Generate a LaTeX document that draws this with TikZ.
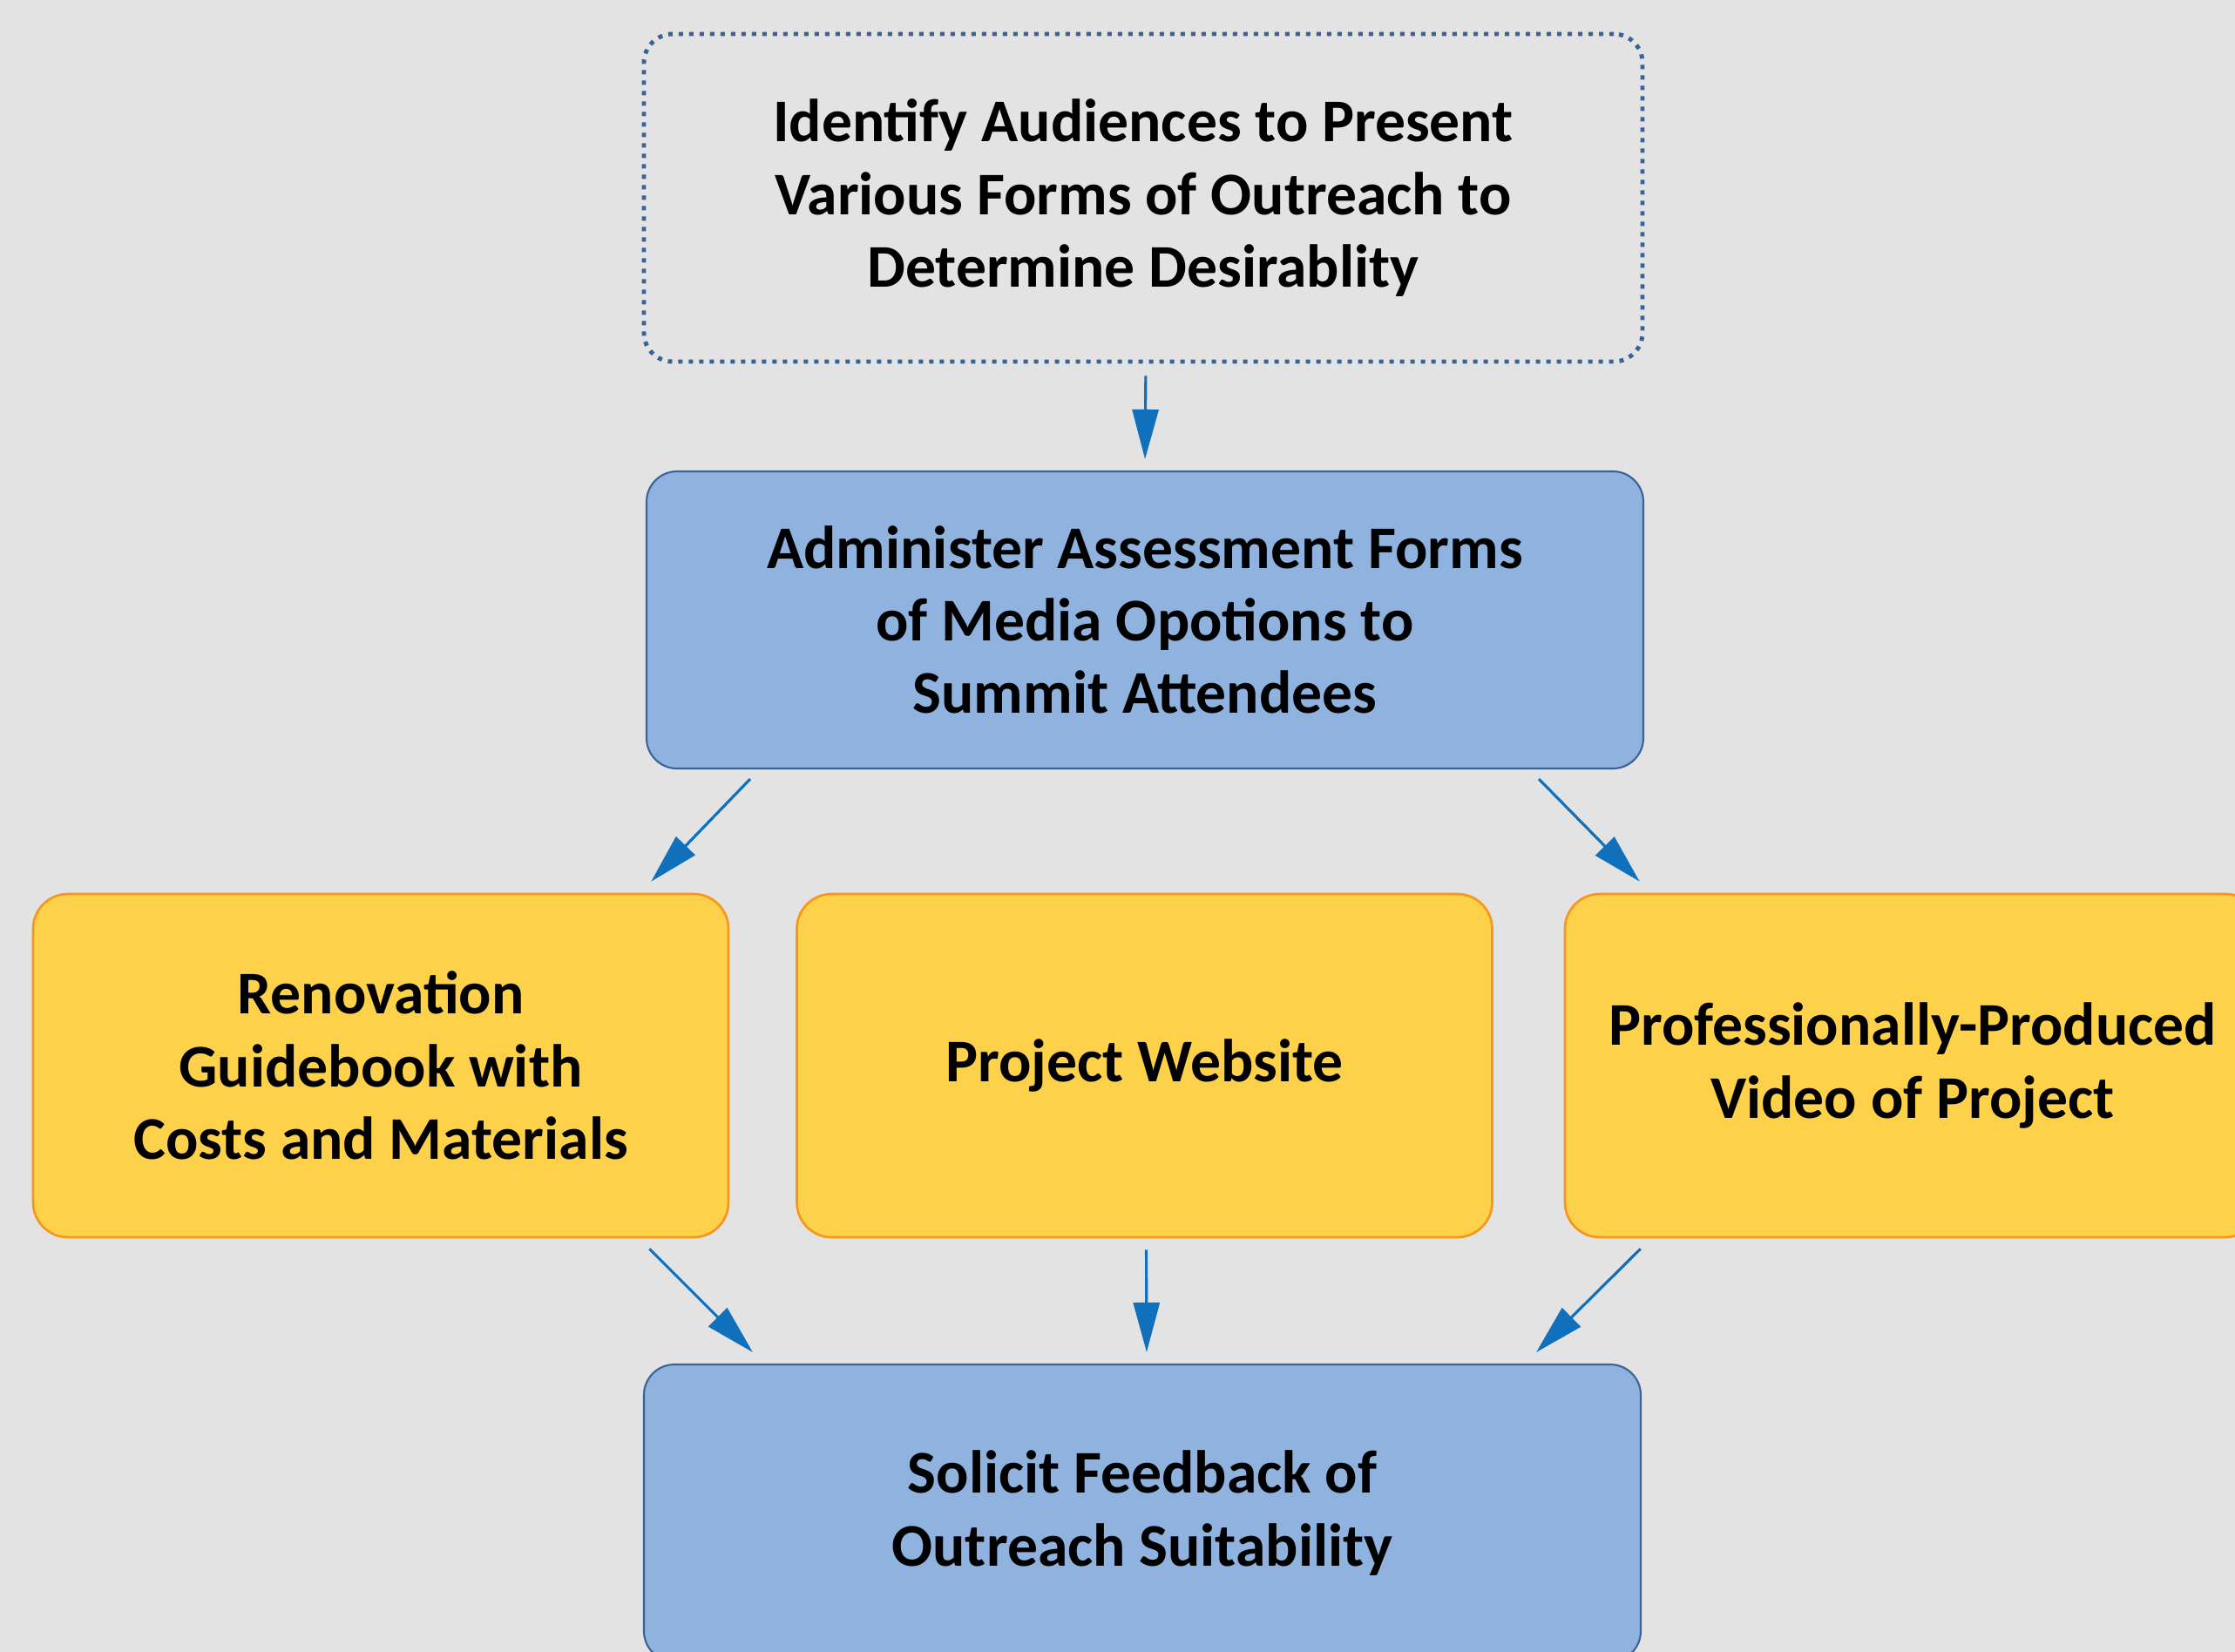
\documentclass[tikz,border=0pt]{standalone}
\usepackage{fontspec}
\setmainfont{Carlito}
\usetikzlibrary{arrows.meta}
\definecolor{bgcol}{RGB}{227,227,227}
\definecolor{framecol}{RGB}{58,98,150}
\definecolor{bluefill}{RGB}{143,179,222}
\definecolor{yellowfill}{RGB}{253,210,74}
\definecolor{orangeline}{RGB}{247,150,30}
\definecolor{arrowcol}{RGB}{16,112,187}
\tikzset{
    box/.style={align=center, inner sep=0pt, font=\bfseries\fontsize{19.8}{23.7}\selectfont},
    dotbox/.style={box, draw=framecol, line width=1.4pt, dash pattern=on 0.05cm off 0.07cm,
        rounded corners=0.33cm, minimum width=11.46cm, minimum height=3.76cm},
    bluebox/.style={box, fill=bluefill, draw=framecol, line width=0.6pt,
        rounded corners=0.35cm, minimum width=11.44cm, minimum height=3.41cm},
    yellowbox/.style={box, fill=yellowfill, draw=orangeline, line width=0.75pt,
        rounded corners=0.4cm, minimum width=7.98cm, minimum height=3.94cm},
    flow/.style={draw=arrowcol, line width=0.9pt, -{Triangle[length=0.57cm, width=0.30cm]}}
}
\begin{document}
\begin{tikzpicture}
    \useasboundingbox (0,0) rectangle (25.65,-18.96);
    \clip (0,0) rectangle (25.65,-18.96);
    \fill[bgcol] (0,0) rectangle (25.65,-18.96);

    \node[dotbox] (audience) at (13.12,-2.27) {Identify Audiences to Present\\Various Forms of Outreach to\\Determine Desirablity};
    \node[bluebox] (admin) at (13.14,-7.115) {Administer Assessment Forms\\of Media Opotions to\\Summit Attendees};
    \node[yellowbox] (guide) at (4.37,-12.23) {Renovation\\Guidebook with\\Costs and Materials};
    \node[yellowbox] (website) at (13.135,-12.23) {Project Website};
    \node[yellowbox] (video) at (21.95,-12.23) {Professionally-Produced\\Video of Project};
    \node[bluebox] (feedback) at (13.11,-17.365) {Solicit Feedback of\\Outreach Suitability};

    \draw[flow, shorten <=0.14cm, shorten >=0.13cm] ([xshift=0.03cm]audience.south) -- (admin.north);
    \draw[flow] ([xshift=1.2cm,yshift=-0.11cm]admin.south west) -- ([xshift=-0.9cm,yshift=0.13cm]guide.north east);
    \draw[flow] ([xshift=-1.21cm,yshift=-0.11cm]admin.south east) -- ([xshift=0.87cm,yshift=0.13cm]video.north west);
    \draw[flow] ([xshift=-0.92cm,yshift=-0.12cm]guide.south east) -- ([xshift=1.26cm,yshift=0.13cm]feedback.north west);
    \draw[flow, shorten <=0.13cm, shorten >=0.13cm] ([xshift=0.02cm]website.south) -- ([xshift=0.05cm]feedback.north);
    \draw[flow] ([xshift=0.88cm,yshift=-0.12cm]video.south west) -- ([xshift=-1.21cm,yshift=0.13cm]feedback.north east);
\end{tikzpicture}
\end{document}
